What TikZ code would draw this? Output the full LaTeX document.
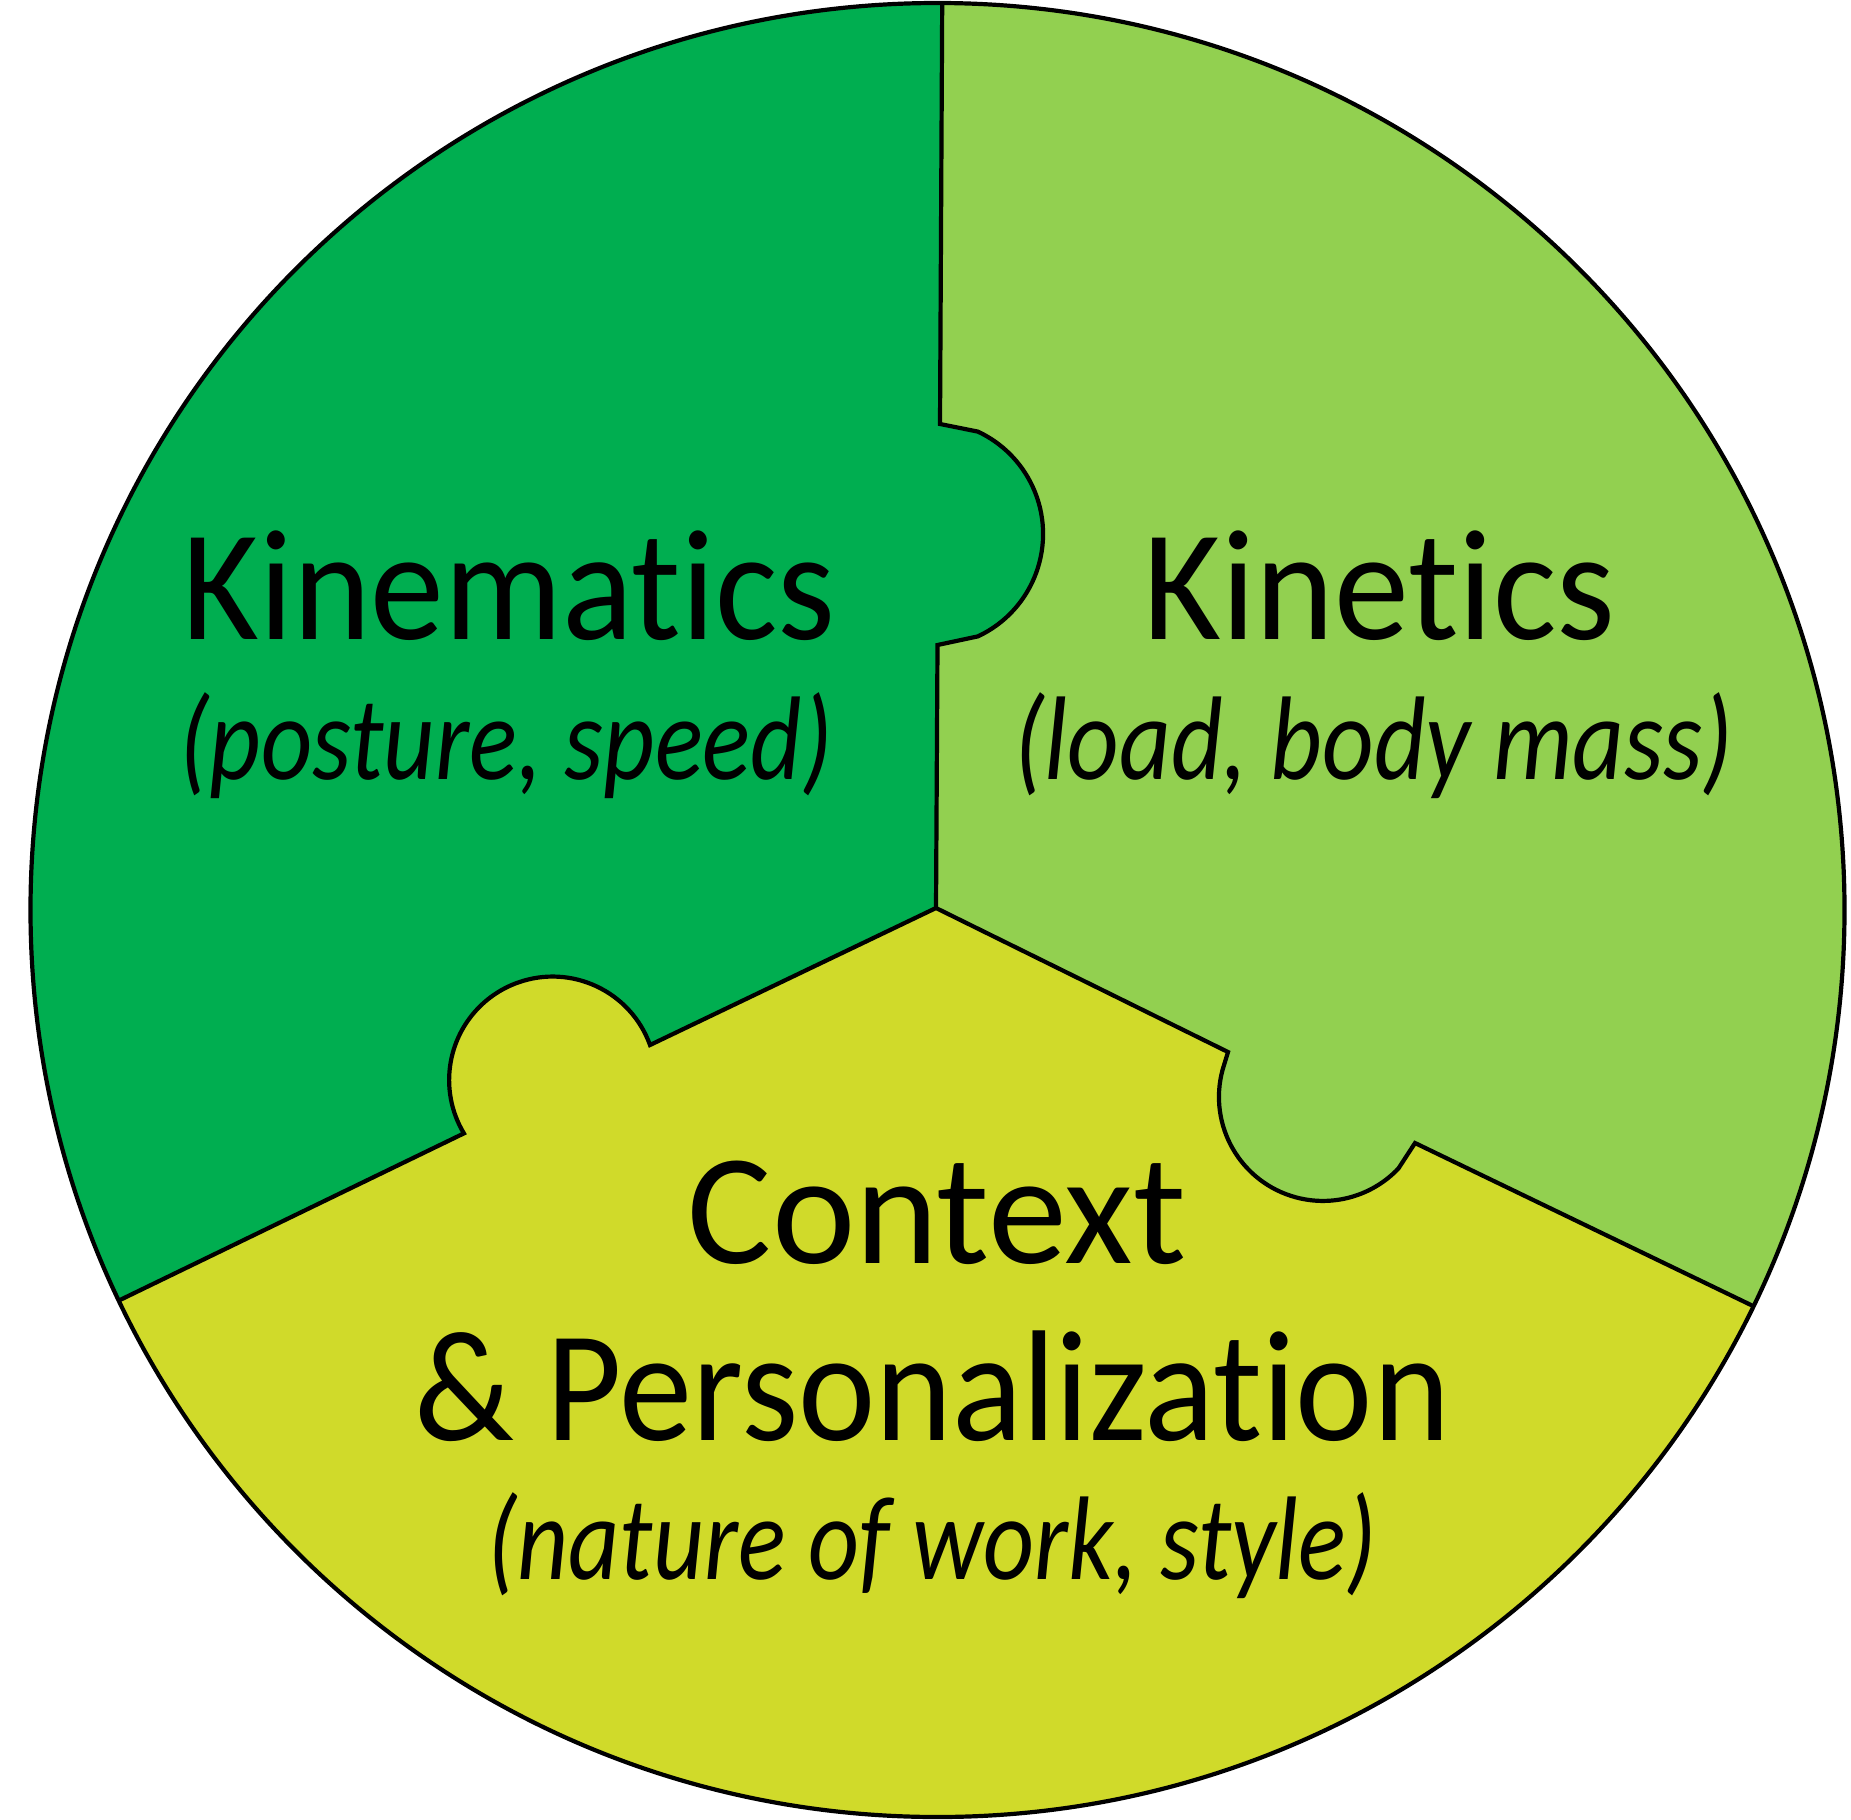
\documentclass[tikz,border=0pt]{standalone}
\usepackage{fontspec}
\setmainfont{Carlito}[Ligatures={NoCommon}]
\definecolor{kmcol}{HTML}{00AE50}
\definecolor{ktcol}{HTML}{92D050}
\definecolor{ctxcol}{HTML}{D0DA2A}
\newcommand\hsq[2]{\scalebox{#1}[1]{#2}}
\begin{document}
\begin{tikzpicture}[x=1pt,y=1pt,
  edge/.style={line width=4.2pt,draw=black},
  title/.style={inner sep=0pt,anchor=base,font=\fontsize{158}{170}\selectfont},
  sub/.style={inner sep=0pt,anchor=base,font=\fontsize{119}{130}\selectfont\itshape}]
\useasboundingbox (0,0) rectangle (1851,-1819);
% key points
\coordinate (O) at (937.5,-910);
\coordinate (C) at (936,-908);
\coordinate (T) at (942.2,-3);
\coordinate (LL) at (118.9,-1300.5);
\coordinate (LR) at (1753.5,-1306.2);
% top edge
\coordinate (t1) at (937.5,-645);
\coordinate (t2) at (977.8,-636.4);
\coordinate (t3) at (940,-424);
% lower-left edge
\coordinate (l1) at (650,-1045);
\coordinate (l2) at (463.9,-1133.4);
% lower-right edge
\coordinate (r1) at (1228,-1052);
\coordinate (r2) at (1222.5,-1070);
\coordinate (r3) at (1398.4,-1168.5);
\coordinate (r4) at (1415,-1143);
% base fill
\fill[ctxcol] (O) circle[radius=907pt];
% Kinematics piece
\fill[kmcol] (C) -- (t1) -- (t2) arc[start angle=-65,end angle=65,radius=113pt] -- (t3) -- (T)
  arc[start angle=89.7,end angle=205.5,radius=907pt] -- (l2)
  arc[start angle=211,end angle=19.8,radius=103.5pt] -- (l1) -- cycle;
% Kinetics piece
\fill[ktcol] (C) -- (t1) -- (t2) arc[start angle=-65,end angle=65,radius=113pt] -- (t3) -- (T)
  arc[start angle=89.7,end angle=-25.9,radius=907pt] -- (r4) -- (r3)
  arc[start angle=316.5,end angle=165,radius=104pt] -- (r1) -- cycle;
% edges
\draw[edge] (C) -- (t1) -- (t2) arc[start angle=-65,end angle=65,radius=113pt] -- (t3) -- (T);
\draw[edge] (C) -- (l1) arc[start angle=19.8,end angle=211,radius=103.5pt] -- (LL);
\draw[edge] (C) -- (r1) -- (r2) arc[start angle=165,end angle=316.5,radius=104pt] -- (r4) -- (LR);
\draw[edge] (O) circle[radius=907pt];
% labels
\node[title] (kmt) at (509,-639) {\hsq{0.935}{Kinematics}};
\node[sub] (kms) at (506,-779) {\hsq{0.84}{(posture, speed)}};
\node[title] (ktt) at (1379.5,-639) {\hsq{0.95}{Kinetics}};
\node[sub] (kts) at (1374,-779) {\hsq{0.845}{(load, body mass)}};
\node[title] (cxt) at (937,-1263) {Context};
\node[title] (cxp) at (932,-1440) {\hsq{0.926}{\& Personalization}};
\node[sub] (cxs) at (932,-1579.5) {\hsq{0.835}{(nature of work, style)}};
\end{tikzpicture}
\end{document}
